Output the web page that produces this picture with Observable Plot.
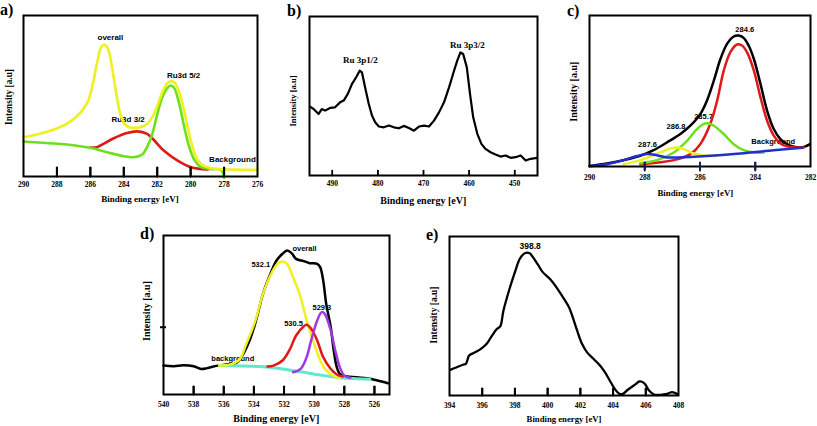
<!DOCTYPE html>
<html>
<head>
<meta charset="utf-8">
<script src="https://cdn.jsdelivr.net/npm/d3@7"></script>
<script src="https://cdn.jsdelivr.net/npm/@observablehq/plot@0.6"></script>
<style>
html,body{margin:0;padding:0;background:#fff;overflow:hidden;}
#wrap{position:relative;width:817px;height:426px;}
#wrap .pan{position:absolute;}
#ov{position:absolute;left:0;top:0;pointer-events:none;}
</style>
</head>
<body>
<div id="wrap"></div>
<script>
// ---------- DATA (binding energy [eV], intensity [a.u., 0-100 of panel]) ----------
// Panel a: Ru 3d
const aOverall = [[290,24.4],[289.03,26.5],[288.23,29.0],[287.42,32.7],[286.82,37.3],[286.42,42.0],[286.12,47.2],[285.81,59.6],[285.57,72.0],[285.37,79.9],[285.21,81.8],[285.01,80.7],[284.81,74.1],[284.61,61.7],[284.41,49.3],[284.21,38.9],[283.96,32.7],[283.7,30.6],[283.4,30.2],[283.0,30.6],[282.6,32.7],[282.29,36.9],[281.99,44.1],[281.69,52.4],[281.39,58.0],[281.19,59.2],[280.99,58.6],[280.78,55.1],[280.48,45.1],[280.18,30.6],[279.88,18.2],[279.58,10.4],[279.17,6.4],[278.57,4.8],[277.36,4.3],[276,4.1]];
const aRu52 = [[290,21.7],[288.43,20.7],[287.42,19.9],[286.02,17.8],[285.01,15.1],[284.0,12.6],[283.4,12.0],[282.9,13.7],[282.56,19.3],[282.29,26.5],[281.99,38.9],[281.69,49.3],[281.39,55.1],[281.19,56.5],[280.99,55.1],[280.68,45.1],[280.38,30.6],[280.08,18.2],[279.78,10.4],[279.38,5.8],[278.77,4.6],[278.17,4.1],[278.0,-0.8]];
const aRu32 = [[286.0,18.0],[285.61,18.2],[284.63,23.6],[283.8,27.0],[283.2,28.0],[282.6,26.5],[282.21,22.8],[281.61,16.1],[280.78,9.9],[279.98,5.8],[278.97,4.4]];
const aTicks = [290,288,286,284,282,280,278,276];
const aLabels = [{t:"overall",e:284.8,v:86.5},{t:"Ru3d 5/2",e:280.42,v:62.7},{t:"Ru3d 3/2",e:283.74,v:35.5},{t:"Background",e:277.5,v:10.4}];

// Panel b: Ru 3p
const bSpectrum = [[494.9,43.3],[494.1,41.8],[493.0,38.7],[492.3,41.8],[491.6,40.8],[490.5,42.5],[489.4,42.9],[488.3,46.0],[487.5,47.1],[486.6,51.3],[485.7,57.5],[484.7,62.1],[484.0,65.9],[483.5,64.9],[482.8,55.4],[482.0,45.0],[481.3,37.7],[480.6,33.5],[479.8,30.8],[478.7,30.3],[477.6,31.4],[476.5,30.3],[475.4,29.7],[474.3,31.2],[473.2,29.9],[472.1,28.2],[471.0,30.8],[469.9,31.4],[468.8,30.8],[467.7,34.5],[466.6,39.7],[465.5,46.0],[464.4,55.4],[463.3,65.9],[462.6,72.2],[461.9,77.4],[461.3,76.4],[460.5,68.0],[459.8,51.3],[459.1,36.6],[458.2,26.2],[457.3,19.9],[456.4,16.7],[455.3,14.6],[454.2,13.2],[453.1,11.9],[452.0,12.6],[450.9,11.1],[449.8,11.5],[448.7,12.6],[447.6,9.4],[446.5,10.5],[445.1,11.1]];
const bTicks = [490,480,470,460,450];
const bLabels = [{t:"Ru 3p1/2",e:483.86,v:72.6},{t:"Ru 3p3/2",e:460.4,v:82.0}];

// Panel c: C 1s
const cOverall = [[290,0.4],[289.37,2.0],[288.77,4.2],[288.16,7.1],[287.68,10.8],[287.2,15.9],[286.71,21.5],[286.35,27.0],[285.99,34.7],[285.75,43.6],[285.5,56.9],[285.26,71.2],[285.02,81.2],[284.78,86.1],[284.6,86.7],[284.42,85.2],[284.24,80.1],[284.05,71.2],[283.81,54.6],[283.57,36.9],[283.33,24.8],[283.09,18.1],[282.85,14.8],[282.6,13.1],[282.36,12.6],[282.18,13.3],[282.02,14.8]];
const cPeak1 = [[288.16,1.5],[286.95,4.2],[286.35,8.2],[285.99,14.8],[285.63,28.1],[285.38,43.6],[285.14,63.5],[284.9,75.7],[284.66,80.8],[284.48,80.1],[284.3,75.7],[284.05,63.5],[283.81,45.8],[283.57,30.3],[283.33,20.4],[283.09,15.3],[282.85,13.3],[282.48,12.6],[282.24,12.6]];
const cPeak2 = [[288.16,2.2],[287.56,4.2],[286.95,9.3],[286.47,17.0],[286.11,24.8],[285.87,28.1],[285.69,28.5],[285.5,27.0],[285.14,21.5],[284.78,14.8],[284.42,10.8],[284.05,9.3],[283.69,9.3]];
const cPeak3 = [[288.77,1.5],[288.16,4.2],[287.44,9.3],[287.08,11.9],[286.83,12.6],[286.59,11.5],[286.23,8.6],[285.75,7.1],[285.38,7.1]];
const cPeak4 = [[290,0.2],[289.37,1.5],[288.77,4.2],[288.28,6.9],[287.92,8.2],[287.56,7.5],[287.2,6.0],[286.83,6.0],[285.75,6.9],[284.54,8.6],[283.33,10.8],[282.3,12.4]];
const cTicks = [288,286,284];
const cTickLabels = [290,288,286,284,282];
const cLabels = [{t:"284.6",e:284.38,v:90.5},{t:"285.7",e:285.87,v:33.0},{t:"286.8",e:286.87,v:26.3},{t:"287.6",e:287.9,v:14.8},{t:"Background",e:283.35,v:16.6}];

// Panel d: O 1s
const dOverall = [[540,18.2],[539.3,17.8],[538.7,18.4],[538.0,17.8],[537.5,16.1],[537.1,16.6],[536.5,18.0],[535.8,18.9],[535.1,20.3],[534.7,25.6],[534.2,36.1],[533.8,48.6],[533.4,63.3],[532.9,75.9],[532.5,84.3],[532.1,88.5],[531.8,90.6],[531.5,88.9],[531.2,85.3],[530.7,83.9],[530.3,82.6],[529.8,82.2],[529.6,80.1],[529.4,71.7],[529.2,57.0],[528.9,42.3],[528.7,27.7],[528.5,17.2],[528.3,13.0],[527.8,11.3],[527.2,10.9],[526.3,9.9],[525.8,8.8],[525.1,7.1]];
const dBackground = [[536.3,18.2],[534.9,18.0],[533.6,17.6],[532.3,16.4],[530.9,14.3],[529.6,12.2],[528.3,10.5],[527.2,9.9],[526.3,9.6]];
const d5321 = [[536.3,18.2],[535.6,18.9],[535.0,21.4],[534.5,31.9],[533.9,46.5],[533.4,63.3],[532.8,76.9],[532.4,82.6],[532.1,83.6],[531.8,82.2],[531.4,73.8],[530.9,61.2],[530.5,46.5],[530.0,31.9],[529.6,21.4],[529.2,15.1],[528.7,11.5],[528.3,10.5]];
const d5305 = [[533.1,17.6],[532.7,18.2],[532.1,21.4],[531.6,28.7],[531.2,37.1],[530.7,42.8],[530.5,43.8],[530.2,41.3],[529.8,34.0],[529.4,23.5],[528.9,16.1],[528.5,12.6],[528.1,11.3]];
const d5293 = [[531.4,14.0],[530.9,16.1],[530.5,23.5],[530.2,34.0],[529.8,46.5],[529.5,51.8],[529.3,50.7],[528.9,40.3],[528.6,27.7],[528.3,17.2],[528.0,11.9],[527.6,10.5]];
const dTicks = [538,536,534,532,530,528,526];
const dTickLabels = [540,538,536,534,532,530,528,526];
const dYTick = [42.3];
const dLabels = [{t:"overall",e:530.64,v:91.6},{t:"532.1",e:533.54,v:81.8},{t:"529.3",e:529.49,v:54.5},{t:"530.5",e:531.37,v:44.9},{t:"background",e:535.4,v:22.4}];

// Panel e: N 1s
const eSpectrum = [[394.04,16.1],[394.45,17.8],[394.86,19.5],[395.0,19.9],[395.1,22.4],[395.2,25.2],[395.6,27.3],[396.0,30.0],[396.3,32.9],[396.6,37.7],[396.9,41.9],[397.1,43.4],[397.3,53.5],[397.7,68.1],[398.0,77.6],[398.3,86.0],[398.6,89.5],[398.9,89.5],[399.1,87.0],[399.4,82.4],[399.7,77.6],[400.2,72.7],[400.6,67.1],[401.0,60.8],[401.3,55.6],[401.5,50.3],[401.8,40.9],[402.1,32.5],[402.4,27.3],[402.8,23.1],[403.2,18.9],[403.5,14.7],[403.8,9.4],[404.1,4.2],[404.4,1.0],[404.6,1.0],[404.9,3.6],[405.4,7.3],[405.6,8.8],[405.9,7.8],[406.2,3.1],[406.5,0.6],[406.9,0.4],[407.3,1.0],[407.6,2.1],[407.8,1.5],[407.96,0.6]];
const eTicks = [396,398,400,402,404,406];
const eTickLabels = [394,396,398,400,402,404,406,408];
const eLabels = [{t:"398.8",e:398.93,v:93.7}];

// ---------- DRAWING ----------
const wrap = document.getElementById("wrap");
const SERIF = "Liberation Serif, Times New Roman, serif";
const SANS = "Liberation Sans, Arial, sans-serif";
const COL = {yellow:"#eef020", green:"#6ee01a", red:"#e01818", blue:"#1f2fd0", purple:"#a03ae0", cyan:"#62e6cc", black:"#000"};

const NS = "http://www.w3.org/2000/svg";
const ov = document.createElementNS(NS, "svg");
ov.setAttribute("id", "ov");
ov.setAttribute("width", 817);
ov.setAttribute("height", 426);
wrap.appendChild(ov);

function place(svg, left, top) {
  const div = document.createElement("div");
  div.className = "pan";
  div.style.left = left + "px";
  div.style.top = top + "px";
  div.appendChild(svg);
  wrap.appendChild(div);
}

function panel(cfg) {
  const mL = 14, mR = 14, mT = 4, mB = 20;
  const fw = cfg.x2 - cfg.x1, fh = cfg.y2 - cfg.y1;
  // tick length expressed in y-scale units (domain 0-100 spans the frame height)
  const up = cfg.tickLen / fh * 100, down = (cfg.tickOut || 0) / fh * 100;
  const tickColor = cfg.tickColor || "black";
  const tickW = cfg.tickW || 2;
  const tickSegs = cfg.ticks.flatMap(t => [{t, v: -down}, {t, v: up}]);
  const line = (data, stroke, sw) => Plot.line(data, {x: d => d[0], y: d => d[1], stroke, strokeWidth: sw, curve: cfg.curve || "catmull-rom", strokeLinejoin: "round", strokeLinecap: "round"});
  const labels = (data, font, size) => Plot.text(data, {x: "e", y: "v", text: "t", fontFamily: font, fontWeight: "bold", fontSize: size, fill: "black"});
  const marks = cfg.marks({line, labels, fh, fw});
  const common = {
    width: fw + mL + mR, height: fh + mT + mB,
    marginLeft: mL, marginRight: mR, marginTop: mT, marginBottom: mB,
    style: {background: "transparent", overflow: "visible", maxWidth: "none", fontFamily: SERIF}
  };
  const svg = Plot.plot({
    ...common,
    x: {domain: cfg.xdom},
    y: {domain: [0, 100], axis: null},
    marks: [
      ...marks,
      Plot.line(tickSegs, {x: "t", y: "v", z: "t", stroke: tickColor, strokeWidth: tickW, curve: "linear"}),
      Plot.axisX(cfg.tickLabels, {tickSize: 0, tickPadding: cfg.pad, fontSize: 7.5, fontWeight: "bold", fontFamily: SERIF, tickFormat: d => String(d), label: null}),
      Plot.frame({stroke: "black", strokeWidth: 2})
    ]
  });
  place(svg, cfg.x1 - mL, cfg.y1 - mT);
  // inward ticks, also drawn on a plot layer of their own with the same scales
  const tickSvg = Plot.plot({
    ...common,
    x: {domain: cfg.xdom, axis: null},
    y: {domain: [0, 100], axis: null},
    marks: [
      Plot.ruleX(cfg.ticks, {x: d => d, y1: -down, y2: up, stroke: tickColor, strokeWidth: tickW})
    ]
  });
  place(tickSvg, cfg.x1 - mL, cfg.y1 - mT);
}

panel({x1: 23, x2: 257, y1: 15, y2: 176, xdom: [290, 276], ticks: aTicks.slice(1, -1), tickLabels: aTicks, tickLen: 9, pad: 5,
  marks: ({line, labels}) => [
    labels(aLabels, SANS, 8),
    line(aRu32, COL.red, 2.6),
    line(aRu52, COL.green, 2.6),
    line(aOverall, COL.yellow, 2.6)
  ]});

panel({x1: 309, x2: 537, y1: 16, y2: 175, xdom: [495, 445], ticks: bTicks, tickLabels: bTicks, tickLen: 5, tickW: 1.5, pad: 5.3, curve: "linear",
  marks: ({line, labels}) => [
    labels(bLabels, SERIF, 9),
    line(bSpectrum, COL.black, 2.2)
  ]});

panel({x1: 589, x2: 810, y1: 15, y2: 166, xdom: [290, 282], ticks: cTicks, tickLabels: cTickLabels, tickLen: 4, tickOut: 4, tickColor: "#1c1c50", pad: 8.5,
  marks: ({line, labels}) => [
    labels(cLabels, SANS, 7.5),
    line(cOverall, COL.black, 2.5),
    line(cPeak1, COL.red, 2.5),
    line(cPeak2, COL.green, 2.5),
    line(cPeak3, COL.yellow, 2.5),
    line(cPeak4, COL.blue, 2.5)
  ]});

panel({x1: 163, x2: 389, y1: 235, y2: 394, xdom: [540, 525], ticks: dTicks, tickLabels: dTickLabels, tickLen: 8, pad: 7.2,
  marks: ({line, labels, fw}) => [
    labels(dLabels, SANS, 7.5),
    line(dOverall, COL.black, 2.5),
    line(dBackground, COL.cyan, 3),
    line(d5321, COL.yellow, 2.5),
    line(d5305, COL.red, 2.5),
    line(d5293, COL.purple, 2.5),
    Plot.tickY(dYTick, {y: d => d, stroke: "black", strokeWidth: 2, insetLeft: -3, insetRight: fw - 3})
  ]});

panel({x1: 449, x2: 678, y1: 236, y2: 395, xdom: [394, 408], ticks: eTicks, tickLabels: eTickLabels, tickLen: 7, pad: 7.5,
  marks: ({line, labels}) => [
    labels(eLabels, SANS, 8.5),
    line(eSpectrum, COL.black, 2.3)
  ]});

// ---------- TITLES (panel letters, axis titles) ----------
function txt(s, x, y, size, opts = {}) {
  const t = document.createElementNS(NS, "text");
  t.textContent = s;
  t.setAttribute("x", x);
  t.setAttribute("y", y);
  t.setAttribute("font-family", SERIF);
  t.setAttribute("font-weight", "bold");
  t.setAttribute("font-size", size);
  t.setAttribute("text-anchor", opts.anchor || "start");
  if (opts.rotate) {
    t.setAttribute("transform", `rotate(-90 ${x} ${y})`);
    t.setAttribute("dominant-baseline", "central");
  }
  ov.appendChild(t);
}
const letters = [["a)", 0, 15], ["b)", 287, 16], ["c)", 567, 16], ["d)", 140, 239], ["e)", 426, 239.5]];
letters.forEach(([s, x, y]) => txt(s, x, y, 16));
const yTitles = [[8.5, 97, 9.3], [293.3, 101, 8.5], [574, 91.7, 10], [146, 311, 10], [433.5, 315, 9.5]];
yTitles.forEach(([x, y, s]) => txt("Intensity [a.u]", x, y, s, {anchor: "middle", rotate: true}));
const xTitles = [[140, 202, 9], [423.3, 204, 10], [695.3, 195.5, 8.8], [276.3, 421.5, 10], [564, 421.5, 8.7]];
xTitles.forEach(([x, y, s]) => txt("Binding energy [eV]", x, y, s, {anchor: "middle"}));
</script>
</body>
</html>
